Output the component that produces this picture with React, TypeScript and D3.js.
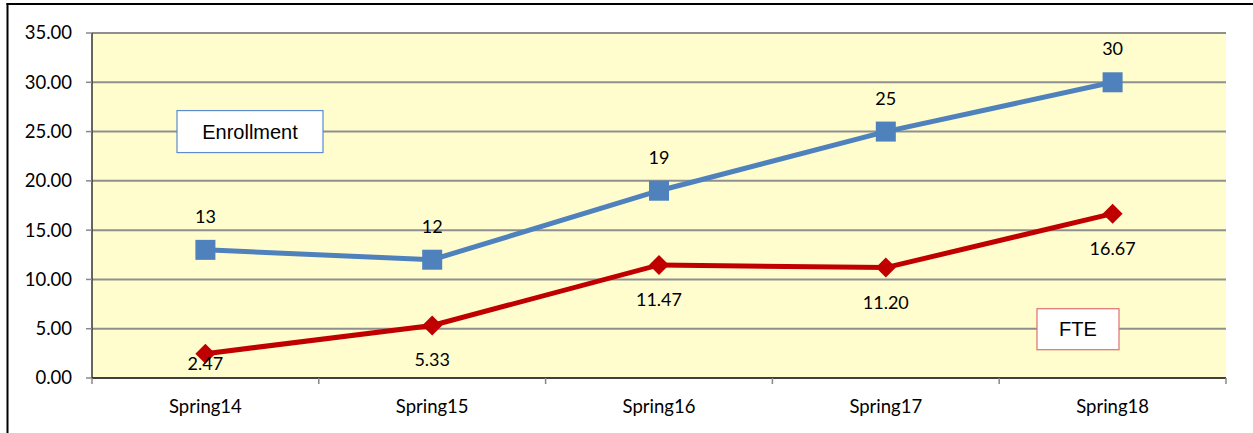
import * as d3 from 'd3'
import React from 'react'

const categories = ['Spring14', 'Spring15', 'Spring16', 'Spring17', 'Spring18']
const enrollment = [13, 12, 19, 25, 30]
const fte = [2.47, 5.33, 11.47, 11.2, 16.67]
const yTicks = [0, 5, 10, 15, 20, 25, 30, 35]

const W = 1253
const H = 433
const margin = { top: 33, right: 27, bottom: 55, left: 92 }
const plotW = W - margin.left - margin.right
const plotH = H - margin.top - margin.bottom

const numFont = 'Lato, "Open Sans", sans-serif'
const boxFont = '"Liberation Sans", Arial, sans-serif'

const App = () => {
  const x = d3.scaleBand().domain(categories).range([margin.left, margin.left + plotW])
  const y = d3.scaleLinear().domain([0, 35]).range([margin.top + plotH, margin.top])
  const cx = (c: string) => (x(c) ?? 0) + x.bandwidth() / 2
  const line = d3
    .line<number>()
    .x((_, i) => cx(categories[i]))
    .y((d) => y(d))

  const bottom = y(0)
  // square rotated 45deg, like the spreadsheet marker
  const diamond = d3.symbol().type(d3.symbolSquare).size(200)()

  return (
    <svg
      width={W}
      height={H}
      style={{ position: 'absolute', left: 0, top: 0, background: '#fff' }}
    >
      {/* cut-off title above the frame */}
      <text x={4} y={-3} fontFamily={numFont} fontSize={20} fill="#000">
        Spring Enrollment and FTE
      </text>
      {/* outer frame */}
      <line x1={7.5} x2={7.5} y1={3} y2={H} stroke="#000" strokeWidth={2} />
      <line x1={6.5} x2={W} y1={4} y2={4} stroke="#000" strokeWidth={2} />

      {/* plot background */}
      <rect x={margin.left} y={margin.top} width={plotW} height={plotH} fill="#FFFDCD" />

      {/* gridlines */}
      {yTicks
        .filter((t) => t > 0)
        .map((t) => (
          <line
            key={t}
            x1={margin.left}
            x2={margin.left + plotW}
            y1={y(t)}
            y2={y(t)}
            stroke="#8f8f8f"
            strokeWidth={2}
          />
        ))}

      {/* y axis */}
      <line x1={margin.left} x2={margin.left} y1={margin.top} y2={bottom} stroke="#333" strokeWidth={1.5} />
      {yTicks.map((t) => (
        <g key={t}>
          <line x1={margin.left - 6} x2={margin.left} y1={y(t)} y2={y(t)} stroke="#888" strokeWidth={1.5} />
          <text
            x={72}
            y={y(t)}
            dy="0.35em"
            textAnchor="end"
            fontFamily={numFont}
            fontSize={18.5}
            fill="#000"
          >
            {t.toFixed(2)}
          </text>
        </g>
      ))}

      {/* x axis */}
      <line x1={margin.left} x2={margin.left + plotW} y1={bottom} y2={bottom} stroke="#000" strokeWidth={1.5} />
      {categories.map((c) => (
        <line
          key={'t' + c}
          x1={x(c) ?? 0}
          x2={x(c) ?? 0}
          y1={bottom}
          y2={bottom + 6}
          stroke="#888"
          strokeWidth={1.5}
        />
      ))}
      <line
        x1={margin.left + plotW}
        x2={margin.left + plotW}
        y1={bottom}
        y2={bottom + 6}
        stroke="#888"
        strokeWidth={1.5}
      />
      {categories.map((c) => (
        <text
          key={c}
          x={cx(c)}
          y={bottom + 35}
          textAnchor="middle"
          fontFamily={numFont}
          fontSize={18.5}
          fill="#000"
        >
          {c}
        </text>
      ))}

      {/* Enrollment series */}
      <path d={line(enrollment) ?? ''} fill="none" stroke="#4F81BD" strokeWidth={5} />
      {enrollment.map((v, i) => (
        <g key={'e' + i}>
          <rect x={cx(categories[i]) - 10} y={y(v) - 10} width={20} height={20} fill="#4F81BD" />
          <text
            x={cx(categories[i])}
            y={y(v) - 27}
            textAnchor="middle"
            fontFamily={numFont}
            fontSize={18}
            fill="#000"
          >
            {v}
          </text>
        </g>
      ))}

      {/* FTE series */}
      <path d={line(fte) ?? ''} fill="none" stroke="#C00000" strokeWidth={5} />
      {fte.map((v, i) => (
        <g key={'f' + i}>
          <path
            d={diamond ?? ''}
            transform={`translate(${cx(categories[i])},${y(v)}) rotate(45)`}
            fill="#C00000"
          />
          <text
            x={cx(categories[i])}
            y={Math.min(y(v) + 41, bottom - 8)}
            textAnchor="middle"
            fontFamily={numFont}
            fontSize={18}
            fill="#000"
          >
            {v.toFixed(2)}
          </text>
        </g>
      ))}

      {/* series name boxes */}
      <g transform={`translate(${margin.left + 158},${y(25)})`}>
        <rect x={-73} y={-21} width={146} height={42} fill="#fff" stroke="#5B8BD0" strokeWidth={1.2} />
        <text textAnchor="middle" dy="0.35em" fontFamily={boxFont} fontSize={20} fill="#000">
          Enrollment
        </text>
      </g>
      <g transform={`translate(${margin.left + 986},${y(5)})`}>
        <rect x={-41} y={-20} width={82} height={41} fill="#fff" stroke="#E07070" strokeWidth={1.2} />
        <text textAnchor="middle" dy="0.35em" fontFamily={boxFont} fontSize={20} fill="#000">
          FTE
        </text>
      </g>
    </svg>
  )
}

export default App
